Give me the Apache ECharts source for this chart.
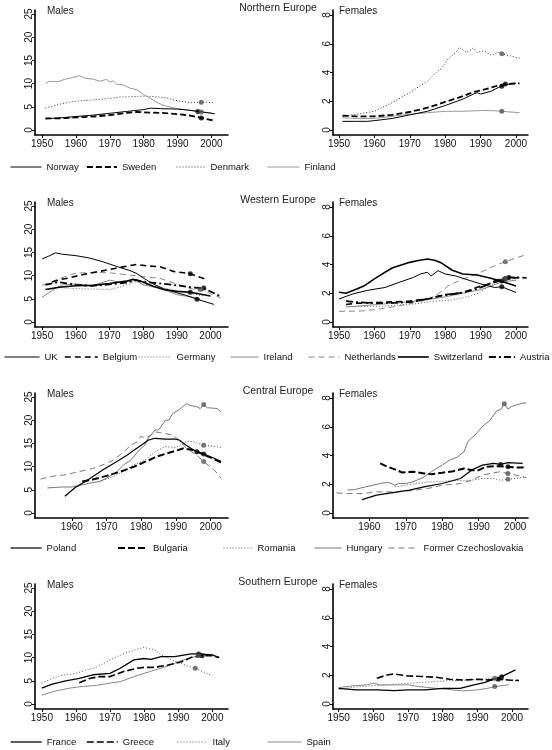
<!DOCTYPE html>
<html><head><meta charset="utf-8">
<script src="https://cdn.jsdelivr.net/npm/echarts@6/dist/echarts.min.js"></script>
<style>html,body{margin:0;padding:0;background:#fff}#c{width:552px;height:750px}</style>
</head><body><div id="c"></div>
<script>
// ---------- tick labels ----------
const xTicks = [1950, 1960, 1970, 1980, 1990, 2000];
const xTicksCentral = [1960, 1970, 1980, 1990, 2000];
const yTicksMale = [0, 5, 10, 15, 20, 25];
const yTicksFemale = [0, 2, 4, 6, 8];
const regions = ['Northern Europe', 'Western Europe', 'Central Europe', 'Southern Europe'];

// ---------- Northern Europe ----------
const norwayM = [[1951,2.4],[1955,2.6],[1960,2.9],[1965,3.2],[1970,3.6],[1975,4.0],[1980,4.4],[1982,4.7],[1985,4.6],[1990,4.5],[1993,4.3],[1996,4.0],[2001,3.5]];
const swedenM = [[1951,2.5],[1955,2.5],[1960,2.7],[1965,2.9],[1970,3.2],[1975,3.7],[1978,3.9],[1980,3.8],[1985,3.7],[1990,3.4],[1993,3.2],[1997,2.6],[2001,2.0]];
const denmarkM = [[1951,4.7],[1955,5.5],[1958,6.0],[1960,6.2],[1965,6.5],[1970,6.8],[1973,7.1],[1977,7.2],[1980,7.3],[1983,7.2],[1986,7.0],[1990,6.3],[1994,5.9],[1997,6.0],[2001,5.9]];
const finlandM = [[1951,10.0],[1952,10.5],[1954,10.4],[1955,10.5],[1957,11.0],[1959,11.3],[1961,11.7],[1963,11.1],[1965,11.0],[1967,10.5],[1969,10.9],[1970,10.3],[1971,10.6],[1972,9.9],[1974,9.7],[1976,9.0],[1978,8.7],[1980,7.6],[1982,6.8],[1984,5.9],[1986,5.3],[1988,4.9],[1990,4.6],[1993,4.3],[1997,3.9],[2000,3.7]];
const norwayF = [[1951,0.6],[1955,0.6],[1958,0.6],[1960,0.65],[1965,0.8],[1970,1.05],[1975,1.3],[1980,1.7],[1985,2.15],[1988,2.5],[1989,2.6],[1990,2.5],[1993,2.7],[1995,2.95],[1997,3.15],[2000,3.25]];
const swedenF = [[1951,1.0],[1955,0.95],[1960,0.95],[1965,1.05],[1970,1.25],[1975,1.55],[1980,1.95],[1985,2.35],[1988,2.65],[1990,2.75],[1993,2.95],[1995,3.1],[1997,3.2],[2001,3.25]];
const denmarkF = [[1951,0.93],[1955,1.1],[1960,1.3],[1965,1.9],[1970,2.6],[1975,3.4],[1977,3.9],[1979,4.3],[1981,5.0],[1983,5.4],[1984,5.75],[1986,5.4],[1988,5.7],[1989,5.4],[1991,5.5],[1993,5.2],[1995,5.4],[1996,5.3],[2001,5.0]];
const finlandF = [[1951,0.85],[1955,0.8],[1960,0.8],[1965,0.95],[1970,1.1],[1975,1.2],[1980,1.3],[1985,1.3],[1990,1.35],[1993,1.35],[1996,1.3],[2001,1.2]];
const northDotsM = [['Norway',1996,4.0],['Sweden',1997,2.6],['Denmark',1997,6.0],['Finland',1997,3.9]];
const northDotsF = [['Denmark',1996,5.3],['Sweden',1997,3.2],['Norway',1996,3.05],['Finland',1996,1.3]];

// ---------- Western Europe ----------
const ukM = [[1950,13.6],[1952,14.2],[1954,14.9],[1956,14.6],[1960,14.3],[1964,13.8],[1968,13.0],[1972,12.0],[1976,11.1],[1978,10.5],[1980,9.5],[1983,8.2],[1986,7.2],[1990,6.3],[1993,5.7],[1996,4.9],[2001,3.8]];
const belgiumM = [[1953,8.6],[1955,9.1],[1958,9.5],[1962,10.2],[1967,10.9],[1972,11.6],[1975,12.0],[1978,12.4],[1981,12.1],[1985,11.9],[1989,10.9],[1992,10.6],[1994,10.4],[1999,9.1]];
const germanyM = [[1952,7.0],[1955,7.4],[1960,7.2],[1965,7.1],[1970,7.0],[1973,7.5],[1975,8.0],[1978,8.7],[1980,8.2],[1985,7.5],[1990,6.8],[1995,6.0],[1998,5.6]];
const irelandM = [[1950,5.3],[1953,6.8],[1956,8.0],[1960,8.2],[1965,7.8],[1970,9.0],[1973,8.6],[1976,8.8],[1978,9.0],[1980,8.0],[1985,7.3],[1990,5.9],[1995,5.3],[1997,4.9]];
const netherlandsM = [[1950,7.9],[1955,9.3],[1960,10.5],[1965,10.7],[1970,10.6],[1975,10.2],[1980,9.8],[1985,9.4],[1990,8.2],[1995,7.0],[1997,7.0],[2003,5.2]];
const switzerlandM = [[1951,7.0],[1955,7.5],[1960,7.8],[1965,7.9],[1970,8.3],[1975,8.8],[1977,9.2],[1980,8.6],[1983,7.7],[1986,7.0],[1990,6.6],[1994,6.4],[2000,5.6]];
const austriaM = [[1951,8.0],[1955,8.6],[1960,8.0],[1965,7.8],[1970,8.1],[1975,8.5],[1978,9.0],[1980,8.7],[1985,8.3],[1990,7.9],[1995,7.4],[1998,7.3],[2003,5.5]];
const ukF = [[1950,1.6],[1954,1.96],[1958,2.2],[1963,2.4],[1967,2.76],[1971,3.1],[1973,3.34],[1975,3.46],[1976,3.2],[1978,3.57],[1980,3.34],[1983,3.2],[1987,2.88],[1991,2.58],[1994,2.4],[1996,2.45],[2000,2.05]];
const switzerlandF = [[1950,2.07],[1952,2.0],[1955,2.3],[1957,2.5],[1960,3.0],[1963,3.46],[1965,3.76],[1968,4.0],[1970,4.15],[1972,4.26],[1975,4.38],[1977,4.3],[1979,4.1],[1982,3.6],[1985,3.34],[1989,3.27],[1992,3.1],[1995,2.9],[2000,2.5]];
const belgiumF = [[1952,1.22],[1955,1.3],[1960,1.35],[1965,1.4],[1970,1.45],[1975,1.6],[1980,1.9],[1985,2.05],[1990,2.5],[1994,2.75],[1997,3.0],[2001,3.1]];
const germanyF = [[1952,1.08],[1958,1.08],[1963,1.1],[1968,1.2],[1972,1.27],[1977,1.45],[1981,1.5],[1985,1.68],[1989,1.96],[1992,2.4],[1995,2.88],[1997,3.05],[2000,3.0]];
const irelandF = [[1952,1.04],[1955,1.1],[1960,1.2],[1965,1.3],[1970,1.4],[1975,1.55],[1980,1.75],[1985,2.0],[1990,2.25],[1993,2.5],[1996,2.8],[2000,2.9]];
const netherlandsF = [[1950,0.74],[1956,0.76],[1960,0.85],[1965,1.04],[1970,1.27],[1975,1.54],[1978,1.96],[1981,2.53],[1985,3.0],[1989,3.34],[1992,3.69],[1994,3.92],[1997,4.2],[2003,4.7]];
const austriaF = [[1952,1.45],[1955,1.38],[1960,1.31],[1965,1.33],[1970,1.38],[1975,1.61],[1979,1.84],[1984,2.0],[1989,2.3],[1992,2.6],[1994,2.85],[1997,3.1],[2000,3.1],[2003,3.07]];
const westDotsM = [['Belgium',1994,10.4],['UK',1996,4.9],['Switzerland',1994,6.4],['Austria',1998,7.3],['Netherlands',1997,7.0]];
const westDotsF = [['Netherlands',1997,4.2],['Switzerland',1996,2.85],['UK',1996,2.45],['Austria',1998,3.1],['Belgium',1997,3.0],['Germany',1997,3.05]];

// ---------- Central Europe ----------
const polandM = [[1958,3.6],[1961,5.5],[1965,7.3],[1969,9.3],[1973,11.1],[1976,12.5],[1978,13.6],[1980,14.6],[1982,15.7],[1984,16.1],[1987,15.9],[1990,15.9],[1991,15.7],[1993,14.6],[1995,13.6],[1998,12.7],[2001,11.8],[2003,11.1]];
const bulgariaM = [[1963,6.8],[1966,7.2],[1970,8.0],[1974,8.9],[1978,10.0],[1981,11.0],[1985,12.3],[1989,13.2],[1992,13.9],[1995,13.6],[1998,12.6],[2001,11.6],[2003,10.9]];
const romaniaM = [[1968,6.7],[1973,8.2],[1978,10.4],[1981,11.4],[1984,13.2],[1987,14.3],[1990,14.1],[1993,15.4],[1995,15.4],[1998,14.6],[2001,14.4],[2003,14.1]];
const hungaryM = [[1953,5.4],[1957,5.6],[1960,5.6],[1962,5.9],[1965,6.4],[1968,6.8],[1970,7.5],[1973,8.9],[1975,10.4],[1977,11.4],[1979,13.2],[1981,14.6],[1982,16.1],[1984,17.9],[1985,17.9],[1987,20.0],[1988,20.0],[1989,21.4],[1991,22.3],[1993,23.6],[1994,23.2],[1996,22.9],[1997,22.5],[1998,23.4],[1999,22.7],[2002,22.5],[2003,21.8]];
const czechM = [[1951,7.3],[1955,8.0],[1958,8.2],[1962,8.9],[1966,9.6],[1969,10.4],[1972,11.4],[1975,13.2],[1977,14.6],[1979,15.4],[1980,16.6],[1981,16.1],[1983,16.8],[1984,17.5],[1987,17.1],[1989,16.8],[1991,15.7],[1993,13.9],[1996,12.5],[1998,11.1],[2001,9.3],[2003,7.5]];
const polandF = [[1958,0.93],[1962,1.24],[1966,1.4],[1971,1.59],[1975,1.82],[1980,2.05],[1985,2.4],[1988,2.98],[1991,3.33],[1994,3.45],[1996,3.38],[1998,3.5],[2002,3.45]];
const bulgariaF = [[1963,3.45],[1965,3.22],[1967,3.03],[1969,2.82],[1972,2.87],[1975,2.75],[1977,2.7],[1980,2.8],[1983,2.91],[1986,3.1],[1988,2.98],[1990,2.98],[1992,3.22],[1995,3.26],[1998,3.22],[2000,3.17],[2003,3.17]];
const romaniaF = [[1967,1.82],[1973,2.05],[1977,2.17],[1983,2.24],[1988,2.28],[1991,2.4],[1994,2.4],[1996,2.28],[1998,2.35],[2000,2.4],[2003,2.52]];
const hungaryF = [[1954,1.6],[1956,1.63],[1959,1.82],[1961,1.93],[1963,2.05],[1965,2.14],[1966,2.05],[1967,1.93],[1968,2.05],[1970,2.05],[1972,2.17],[1975,2.5],[1977,2.87],[1980,3.33],[1982,3.68],[1984,3.87],[1986,4.27],[1987,4.97],[1989,5.43],[1991,6.01],[1993,6.43],[1995,7.13],[1996,7.18],[1997,7.6],[1998,7.23],[1999,7.41],[2002,7.65],[2003,7.65]];
const czechF = [[1951,1.4],[1954,1.35],[1958,1.35],[1962,1.47],[1966,1.47],[1971,1.54],[1976,1.7],[1980,1.93],[1985,2.05],[1988,2.28],[1991,2.63],[1994,2.8],[1996,2.87],[1998,2.75],[2003,2.47]];
const centralDotsM = [['Hungary',1998,23.4],['Romania',1998,14.6],['Poland',1998,12.7],['Bulgaria',1996,13.2],['Former Czechoslovakia',1998,11.1]];
const centralDotsF = [['Hungary',1997,7.6],['Poland',1996,3.38],['Bulgaria',1998,3.22],['Former Czechoslovakia',1998,2.75],['Romania',1998,2.35]];

// ---------- Southern Europe ----------
const franceM = [[1950,3.4],[1953,4.3],[1957,5.0],[1961,5.5],[1965,6.3],[1970,6.6],[1973,7.7],[1977,9.5],[1980,9.8],[1982,9.6],[1985,10.2],[1989,10.2],[1992,10.6],[1994,10.8],[1996,10.8],[2000,10.6],[2002,10.0]];
const greeceM = [[1961,4.6],[1964,5.5],[1967,5.9],[1970,5.9],[1974,7.0],[1978,7.7],[1980,7.9],[1983,7.9],[1987,8.4],[1991,9.1],[1994,10.1],[1997,10.4],[2000,10.4],[2002,10.0]];
const italyM = [[1950,4.5],[1953,5.5],[1956,6.2],[1960,6.6],[1963,7.3],[1966,7.9],[1969,9.1],[1972,10.2],[1975,11.1],[1978,11.8],[1980,12.2],[1981,12.0],[1983,11.7],[1985,10.6],[1989,9.2],[1992,8.4],[1995,7.7],[2000,6.1]];
const spainM = [[1950,1.9],[1954,2.8],[1958,3.4],[1961,3.7],[1966,4.0],[1970,4.5],[1973,4.8],[1977,5.9],[1980,6.6],[1984,7.5],[1987,8.2],[1990,9.1],[1992,9.6],[1995,10.2],[1996,10.4],[1998,10.6],[2000,10.5]];
const franceF = [[1950,1.09],[1955,0.98],[1961,0.98],[1966,0.93],[1970,0.98],[1975,0.98],[1980,1.09],[1985,1.09],[1989,1.33],[1992,1.49],[1995,1.74],[1997,1.9],[2001,2.37]];
const greeceF = [[1961,1.79],[1964,2.02],[1966,2.09],[1970,1.95],[1974,1.91],[1978,1.86],[1982,1.72],[1986,1.67],[1990,1.72],[1993,1.67],[1996,1.72],[1999,1.67],[2002,1.63]];
const italyF = [[1950,1.02],[1954,1.16],[1959,1.26],[1964,1.33],[1968,1.4],[1973,1.49],[1978,1.56],[1983,1.63],[1988,1.67],[1991,1.72],[1995,1.79],[1999,1.67],[2002,1.63]];
const spainF = [[1950,1.14],[1954,1.26],[1958,1.33],[1960,1.44],[1962,1.33],[1966,1.33],[1970,1.33],[1973,1.21],[1978,1.09],[1983,0.98],[1986,0.91],[1990,0.98],[1993,1.09],[1995,1.21],[1999,1.33]];
const southDotsM = [['France',1996,10.8],['Greece',1997,10.4],['Italy',1995,7.7],['Spain',1996,10.4]];
const southDotsF = [['France',1997,1.9],['Greece',1996,1.72],['Italy',1995,1.79],['Spain',1995,1.21]];

// ---------- styles (not data) ----------
const FONT = '"Liberation Sans", Arial, Helvetica, sans-serif';
const styles = {
  'Norway':{c:'#000',w:1,t:'solid'}, 'Sweden':{c:'#000',w:1.8,t:[6,3]}, 'Denmark':{c:'#333',w:1,t:[1,2]}, 'Finland':{c:'#999',w:1,t:'solid'},
  'UK':{c:'#000',w:1,t:'solid'}, 'Belgium':{c:'#000',w:1.6,t:[6,4]}, 'Germany':{c:'#666',w:1,t:[1,2]}, 'Ireland':{c:'#888',w:1,t:'solid'},
  'Netherlands':{c:'#888',w:1,t:[6,4]}, 'Switzerland':{c:'#000',w:1.6,t:'solid'}, 'Austria':{c:'#000',w:1.8,t:[7,3,2,3]},
  'Poland':{c:'#000',w:1.2,t:'solid'}, 'Bulgaria':{c:'#000',w:2,t:[7,3]}, 'Romania':{c:'#555',w:1,t:[1,2]}, 'Hungary':{c:'#777',w:1,t:'solid'},
  'Former Czechoslovakia':{c:'#777',w:1,t:[6,4]},
  'France':{c:'#000',w:1.3,t:'solid'}, 'Greece':{c:'#000',w:1.6,t:[7,3]}, 'Italy':{c:'#555',w:1,t:[1,2]}, 'Spain':{c:'#888',w:1,t:'solid'}
};

const rowAxisY = [135, 327, 518, 709];
const GH = 125;
const panels = [
  {row:0, sex:'M', xr:[1947.9,2004.9], xt:xTicks, lines:[['Norway',norwayM],['Sweden',swedenM],['Denmark',denmarkM],['Finland',finlandM]], dots:northDotsM},
  {row:0, sex:'F', xr:[1948.3,2003.4], xt:xTicks, lines:[['Norway',norwayF],['Sweden',swedenF],['Denmark',denmarkF],['Finland',finlandF]], dots:northDotsF},
  {row:1, sex:'M', xr:[1947.9,2005.2], xt:xTicks, lines:[['UK',ukM],['Belgium',belgiumM],['Germany',germanyM],['Ireland',irelandM],['Netherlands',netherlandsM],['Switzerland',switzerlandM],['Austria',austriaM]], dots:westDotsM},
  {row:1, sex:'F', xr:[1948.3,2003.4], xt:xTicks, lines:[['UK',ukF],['Belgium',belgiumF],['Germany',germanyF],['Ireland',irelandF],['Netherlands',netherlandsF],['Switzerland',switzerlandF],['Austria',austriaF]], dots:westDotsF},
  {row:2, sex:'M', xr:[1949.4,2005.0], xt:xTicksCentral, lines:[['Poland',polandM],['Bulgaria',bulgariaM],['Romania',romaniaM],['Hungary',hungaryM],['Former Czechoslovakia',czechM]], dots:centralDotsM},
  {row:2, sex:'F', xr:[1950.05,2003.5], xt:xTicksCentral, lines:[['Poland',polandF],['Bulgaria',bulgariaF],['Romania',romaniaF],['Hungary',hungaryF],['Former Czechoslovakia',czechF]], dots:centralDotsF},
  {row:3, sex:'M', xr:[1948.0,2004.6], xt:xTicks, lines:[['France',franceM],['Greece',greeceM],['Italy',italyM],['Spain',spainM]], dots:southDotsM},
  {row:3, sex:'F', xr:[1948.36,2004.6], xt:xTicks, lines:[['France',franceF],['Greece',greeceF],['Italy',italyF],['Spain',spainF]], dots:southDotsF}
];

// legend layout: [name, iconLeft, iconWidth]
const legendRows = [
  [['Norway',10,31],['Sweden',86,30],['Denmark',176,29],['Finland',267,32]],
  [['UK',4,35],['Belgium',64,33],['Germany',138,33],['Ireland',230,28],['Netherlands',308,31],['Switzerland',397,31],['Austria',488,26]],
  [['Poland',10,31],['Bulgaria',117,30],['Romania',223,29],['Hungary',314,27],['Former Czechoslovakia',388,30]],
  [['France',10,31],['Greece',86,31],['Italy',177,30],['Spain',267,34]]
];
const legendY = [168, 358, 549, 743];

const grid = [], xAxis = [], yAxis = [], series = [], title = [], legend = [];
const axisTxt = {fontSize:10, color:'#111', fontFamily:FONT};
const plain = v => String(v);

panels.forEach((p, i) => {
  const male = p.sex === 'M';
  const bottomY = rowAxisY[p.row];
  grid.push({left: male ? 35 : 333, width: male ? 193 : 195, top: bottomY - GH, height: GH, containLabel:false});
  xAxis.push({
    type:'value', gridIndex:i, min:p.xr[0], max:p.xr[1],
    axisLine:{show:true, onZero:false, lineStyle:{color:'#000', width:1.6}},
    axisTick:{show:true, customValues:p.xt, length:3, lineStyle:{color:'#000', width:1}},
    axisLabel:{customValues:p.xt, margin:4, formatter:plain, ...axisTxt},
    splitLine:{show:false}
  });
  const yt = male ? yTicksMale : yTicksFemale;
  yAxis.push({
    type:'value', gridIndex:i, min: male ? -1.08 : -0.35, max: male ? 25.86 : 8.35,
    axisLine:{show:true, onZero:false, lineStyle:{color:'#000', width:1.6}},
    axisTick:{show:true, customValues:yt, length:3, lineStyle:{color:'#000', width:1}},
    axisLabel:{customValues:yt, rotate:90, margin:1, formatter:plain, ...axisTxt},
    splitLine:{show:false}
  });
  p.lines.forEach(([name, data]) => {
    const s = styles[name];
    series.push({
      type:'line', name, xAxisIndex:i, yAxisIndex:i, data,
      symbol:'none', showSymbol:false, smooth:false, silent:true,
      lineStyle:{color:s.c, width:s.w, type:s.t}, itemStyle:{color:s.c},
      z: s.c === '#000' ? 3 : 2
    });
  });
  series.push({
    type:'scatter', xAxisIndex:i, yAxisIndex:i, symbol:'circle', symbolSize:5, silent:true, z:5,
    data: p.dots.map(([name, x, y]) => ({value:[x, y], itemStyle:{color: styles[name].c === '#000' ? '#000' : '#555'}}))
  });
  title.push({
    text: male ? 'Males' : 'Females', left: male ? 47 : 339, top: bottomY - 129,
    padding:0,
    textStyle:{fontSize:10, fontWeight:'normal', color:'#222', fontFamily:FONT}
  });
});

regions.forEach((r, k) => {
  title.push({text:r, left:278, top: rowAxisY[k] - 132, textAlign:'center', padding:0,
    textStyle:{fontSize:10.5, fontWeight:'normal', color:'#222', fontFamily:FONT}});
});

legendRows.forEach((items, k) => {
  items.forEach(([name, x, w]) => {
    legend.push({
      data:[name], left:x, top: legendY[k] - 6, itemWidth:w, itemHeight:12, itemGap:0, padding:0,
      selectedMode:false,
      itemStyle:{opacity:0},
      lineStyle:{width:'inherit', type:'inherit'},
      textStyle:{fontSize:9.5, color:'#111', fontFamily:FONT}
    });
  });
});

const chart = echarts.init(document.getElementById('c'), null, {renderer:'canvas'});
chart.setOption({animation:false, backgroundColor:'#fff', grid, xAxis, yAxis, series, title, legend});
</script>
</body></html>
